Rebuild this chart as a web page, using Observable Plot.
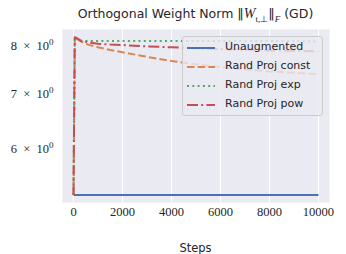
<!DOCTYPE html>
<html><head><meta charset="utf-8">
<script src="https://cdn.jsdelivr.net/npm/d3@7"></script>
<script src="https://cdn.jsdelivr.net/npm/@observablehq/plot@0.6"></script>
<style>
body{margin:0;background:#fff;}
#wrap{position:relative;width:346px;height:254px;font-family:"DejaVu Sans",sans-serif;}
#title{position:absolute;left:0;width:391px;top:6px;text-align:center;font-size:12.5px;color:#262626;white-space:nowrap;}
#title .m{font-family:"Liberation Serif",serif;font-size:14px;}
#title .b{font-family:"DejaVu Sans",sans-serif;font-size:13px;font-weight:normal;}
#xlabel{position:absolute;left:0;width:391px;top:241px;text-align:center;font-size:11.5px;color:#262626;}
#legend{position:absolute;left:182px;top:36px;width:139px;height:78px;background:rgba(234,234,242,0.8);border:1px solid #cccccc;border-radius:3px;font-size:11px;color:#262626;}
#legend .row{position:absolute;left:0;height:14px;}
#legend svg{position:absolute;left:4px;top:0;}
#legend span{position:absolute;left:42px;top:-1px;white-space:nowrap;}
#wrap > svg g[aria-label="x-axis tick label"], #wrap > svg g[aria-label="y-axis tick label"],
#wrap > svg g[aria-label="x-axis tick label"] text, #wrap > svg g[aria-label="y-axis tick label"] text{font-family:"Liberation Serif",serif !important;font-size:12.5px !important;fill:#262626;}
#wrap > svg tspan.sup{font-size:9px !important;}
</style></head><body>
<div id="wrap"></div>
<script>
const steps = [0, 50, 300, 600, 1000, 1500, 2000, 3000, 4000, 5000, 6000, 7000, 8000, 9000, 10000];
const unaugmented = [5.27, 5.27, 5.27, 5.27, 5.27, 5.27, 5.27, 5.27, 5.27, 5.27, 5.27, 5.27, 5.27, 5.27, 5.27];
const randProjConst = [5.27, 8.20, 8.10, 8.03, 7.97, 7.91, 7.86, 7.76, 7.67, 7.60, 7.54, 7.49, 7.45, 7.42, 7.39];
const randProjExp = [5.27, 8.20, 8.12, 8.11, 8.11, 8.11, 8.11, 8.11, 8.11, 8.11, 8.11, 8.11, 8.11, 8.11, 8.10];
const randProjPow = [5.27, 8.20, 8.12, 8.08, 8.05, 8.03, 8.02, 7.99, 7.97, 7.95, 7.93, 7.92, 7.90, 7.89, 7.88];
const seriesNames = ["Unaugmented", "Rand Proj const", "Rand Proj exp", "Rand Proj pow"];
const xTicks = [0, 2000, 4000, 6000, 8000, 10000];
const yTicks = [6, 7, 8];
const yTickMantissa = ["6", "7", "8"];

const colors = ["#4c72b0", "#dd8452", "#55a868", "#c44e52"];
const dashes = ["none", "7.5,3.2", "2,3.3", "11,3.2,2,3.2"];
const allValues = [unaugmented, randProjConst, randProjExp, randProjPow];
const series = seriesNames.map((name, i) => steps.map((s, j) => ({step: s, value: allValues[i][j], name})));

const serif = '"Liberation Serif", serif';
const chart = Plot.plot({
  width: 346, height: 254,
  marginLeft: 62, marginRight: 17, marginTop: 29, marginBottom: 52,
  style: {fontFamily: '"DejaVu Sans", sans-serif', fontSize: "12px", color: "#262626", background: "transparent"},
  x: {domain: [-450, 10450]},
  y: {type: "log", domain: [5.161, 8.377]},
  marks: [
    Plot.frame({fill: "#eaeaf2", stroke: null}),
    Plot.gridX(xTicks, {stroke: "white", strokeOpacity: 1, strokeWidth: 1}),
    Plot.axisX(xTicks, {tickSize: 0, tickPadding: 5, fontFamily: serif, fontSize: 12.5, tickFormat: (d) => String(d), label: null}),
    Plot.axisY(yTicks, {tickSize: 0, tickPadding: 9, fontFamily: serif, fontSize: 12.5, tickFormat: (d) => yTickMantissa[yTicks.indexOf(d)] + "\u2002×\u200210", label: null}),
    ...series.map((data, i) => Plot.line(data, {x: "step", y: "value", stroke: colors[i], strokeWidth: 2, strokeDasharray: dashes[i], strokeLinejoin: "round", strokeLinecap: "butt"}))
  ]
});
const wrap = document.getElementById("wrap");
wrap.appendChild(chart);
// add superscript exponent "0" to y tick labels
chart.querySelectorAll('g[aria-label="y-axis tick label"] text').forEach((t) => {
  const base = t.textContent;
  t.textContent = "";
  const a = document.createElementNS("http://www.w3.org/2000/svg", "tspan");
  a.textContent = base;
  const s = document.createElementNS("http://www.w3.org/2000/svg", "tspan");
  s.setAttribute("class", "sup");
  s.setAttribute("dy", "-5");
  s.textContent = "0";
  t.appendChild(a);
  t.appendChild(s);
});

const title = document.createElement("div");
title.id = "title";
title.innerHTML = 'Orthogonal Weight Norm <span class="m"><span class="b">‖</span><i>W</i><sub style="font-size:9px">t,⊥</sub><span class="b">‖</span><sub style="font-size:9px"><i>F</i></sub></span> (GD)';
wrap.appendChild(title);

const xlabel = document.createElement("div");
xlabel.id = "xlabel";
xlabel.textContent = "Steps";
wrap.appendChild(xlabel);

const legend = document.createElement("div");
legend.id = "legend";
seriesNames.forEach((name, i) => {
  const row = document.createElement("div");
  row.className = "row";
  row.style.top = (4 + i * 19) + "px";
  row.style.width = "139px";
  row.innerHTML = `<svg width="30" height="14"><line x1="0" x2="28" y1="7" y2="7" stroke="${colors[i]}" stroke-width="2" stroke-dasharray="${dashes[i]}"/></svg><span>${name}</span>`;
  legend.appendChild(row);
});
wrap.appendChild(legend);
</script>
</body></html>
